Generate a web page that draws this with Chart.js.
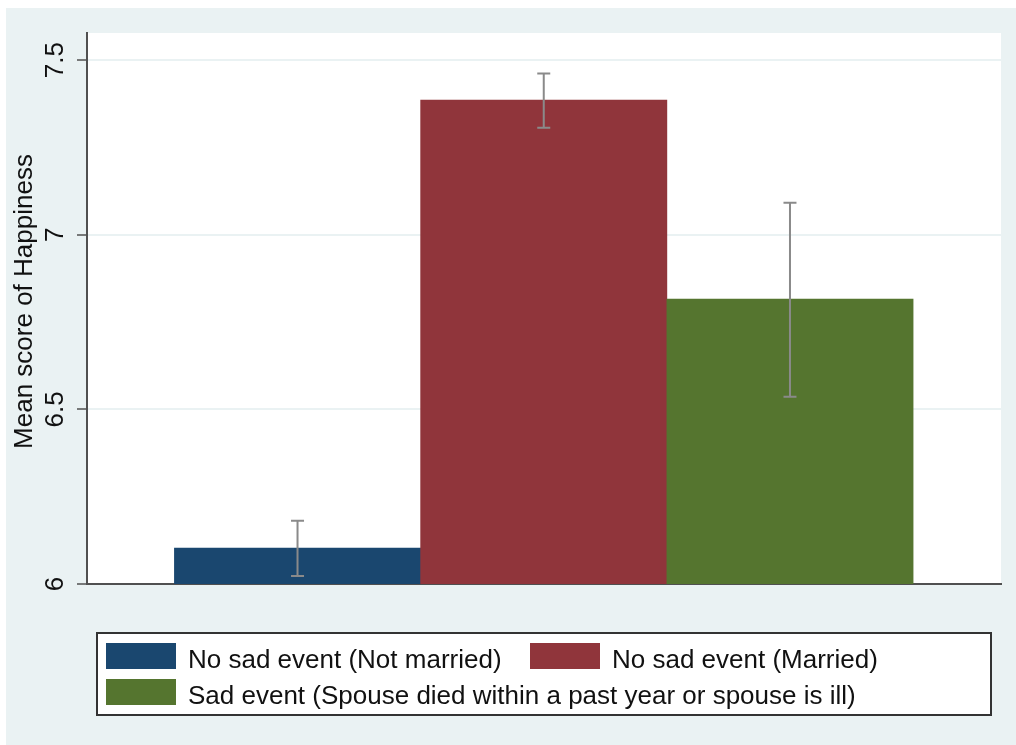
<!DOCTYPE html>
<html>
<head>
<meta charset="utf-8">
<title>Mean score of Happiness</title>
<script src="https://cdn.jsdelivr.net/npm/chart.js@4/dist/chart.umd.min.js"></script>
<style>
  html, body { margin: 0; padding: 0; background: #ffffff; }
  #wrap { position: relative; width: 1016px; height: 745px; }
  canvas { display: block; }
</style>
</head>
<body>
<div id="wrap"><canvas id="chart" width="1016" height="745"></canvas></div>
<script>
// Groups and their mean happiness with 95% confidence limits
const categories = [
  'No sad event (Not married)',
  'No sad event (Married)',
  'Sad event (Spouse died within a past year or spouse is ill)'
];
const meanHappiness = [6.103, 7.386, 6.816];
const ciLower = [6.023, 7.307, 6.536];
const ciUpper = [6.181, 7.462, 7.092];
const barColors = ['#1a476f', '#90353b', '#55752f'];
const yTicks = [6, 6.5, 7, 7.5];
const yAxisTitle = 'Mean score of Happiness';

const FONT = "'Liberation Sans', Arial, Helvetica, sans-serif";
const TEXT = '#111111';
const REGION_BG = '#eaf2f3';
const AXIS = '#505050';

// bar positions along a numeric index axis, one unit apart so bars touch
const barIndex = categories.map((_, i) => i);

// outer graph region + white plot region
const backgroundPlugin = {
  id: 'regionBackground',
  beforeDraw(chart) {
    const { ctx, width, height, chartArea: a } = chart;
    ctx.save();
    ctx.fillStyle = '#ffffff';
    ctx.fillRect(0, 0, width, height);
    ctx.fillStyle = REGION_BG;
    ctx.fillRect(6, 8, width - 6, height - 8);
    ctx.fillStyle = '#ffffff';
    ctx.fillRect(a.left, a.top, a.right - a.left, a.bottom - a.top);
    ctx.restore();
  }
};

// rotated y-axis title, centred a little above the middle of the plot
const axisTitlePlugin = {
  id: 'yAxisTitle',
  afterDraw(chart) {
    const { ctx, chartArea: a } = chart;
    ctx.save();
    ctx.translate(25, (a.top + a.bottom) / 2 - 7);
    ctx.rotate(-Math.PI / 2);
    ctx.font = '26px ' + FONT;
    ctx.fillStyle = TEXT;
    ctx.textAlign = 'center';
    ctx.textBaseline = 'middle';
    ctx.fillText(yAxisTitle, 0, 0);
    ctx.restore();
  }
};

// confidence-interval whiskers drawn on top of the bars
const errorBarPlugin = {
  id: 'ciWhiskers',
  afterDatasetsDraw(chart) {
    const { ctx, scales: { x, y } } = chart;
    const cap = 6.5;
    ctx.save();
    ctx.strokeStyle = '#8a8a8a';
    ctx.lineWidth = 2;
    barIndex.forEach((pos, i) => {
      const px = x.getPixelForValue(pos);
      const lo = y.getPixelForValue(ciLower[i]);
      const hi = y.getPixelForValue(ciUpper[i]);
      ctx.beginPath();
      ctx.moveTo(px, lo); ctx.lineTo(px, hi);
      ctx.moveTo(px - cap, lo); ctx.lineTo(px + cap, lo);
      ctx.moveTo(px - cap, hi); ctx.lineTo(px + cap, hi);
      ctx.stroke();
    });
    ctx.restore();
  }
};

// boxed legend below the plot, two entries per row
const boxedLegendPlugin = {
  id: 'boxedLegend',
  afterDraw(chart) {
    const { ctx } = chart;
    const box = { x: 97, y: 633, w: 894, h: 82 };
    const cols = [106, 530];
    const rowTop = 643, rowStep = 36;
    const sw = 70, sh = 26;
    ctx.save();
    ctx.fillStyle = '#ffffff';
    ctx.fillRect(box.x, box.y, box.w, box.h);
    ctx.strokeStyle = '#333333';
    ctx.lineWidth = 2;
    ctx.strokeRect(box.x, box.y, box.w, box.h);
    ctx.font = '26px ' + FONT;
    ctx.textBaseline = 'alphabetic';
    ctx.textAlign = 'left';
    categories.forEach((label, i) => {
      const sx = cols[i % 2];
      const sy = rowTop + Math.floor(i / 2) * rowStep;
      ctx.fillStyle = barColors[i];
      ctx.fillRect(sx, sy, sw, sh);
      ctx.fillStyle = TEXT;
      ctx.fillText(label, sx + sw + 12, sy + sh - 1);
    });
    ctx.restore();
  }
};

Chart.defaults.font.family = FONT;
Chart.defaults.color = TEXT;

new Chart(document.getElementById('chart'), {
  type: 'bar',
  data: {
    datasets: [{
      label: yAxisTitle,
      data: barIndex.map((pos, i) => ({ x: pos, y: meanHappiness[i] })),
      backgroundColor: barColors,
      borderWidth: 0,
      categoryPercentage: 1,
      barPercentage: 1
    }]
  },
  options: {
    responsive: false,
    animation: false,
    devicePixelRatio: 1,
    layout: { padding: { top: 33, right: 15, bottom: 161, left: 0 } },
    plugins: {
      legend: { display: false },
      tooltip: { enabled: false }
    },
    scales: {
      x: {
        type: 'linear',
        offset: false,
        min: -0.855,
        max: 2.857,
        grid: { display: false, drawTicks: false, offset: false },
        ticks: { display: false },
        border: { display: true, color: AXIS, width: 2 },
        afterBuildTicks(scale) { scale.ticks = barIndex.map(v => ({ value: v })); },
        afterFit(scale) { scale.height = 0; }
      },
      y: {
        min: 6,
        max: 7.578,
        afterBuildTicks(scale) { scale.ticks = yTicks.map(v => ({ value: v })); },
        afterFit(scale) { scale.width = 87; },
        grid: {
          color: REGION_BG,
          lineWidth: 2,
          tickColor: AXIS,
          tickLength: 10,
          tickWidth: 1.5
        },
        border: { display: true, color: AXIS, width: 2 },
        ticks: {
          font: { size: 26 },
          color: TEXT,
          minRotation: 90,
          maxRotation: 90,
          crossAlign: 'center',
          padding: 3,
          callback: (value) => String(value)
        },
        title: { display: false }
      }
    }
  },
  plugins: [backgroundPlugin, errorBarPlugin, axisTitlePlugin, boxedLegendPlugin]
});
</script>
</body>
</html>
